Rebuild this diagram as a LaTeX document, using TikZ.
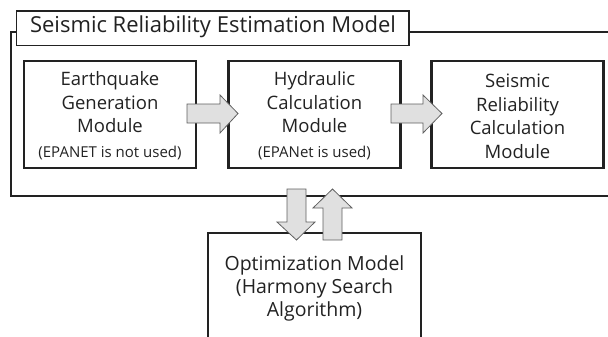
\documentclass[tikz,border=0pt]{standalone}
\usepackage{fontspec}
\setmainfont{Open Sans}
\definecolor{ink}{HTML}{222222}
\definecolor{arrowfill}{HTML}{E0E0E0}
\definecolor{arrowline}{HTML}{606060}
\begin{document}
\begin{tikzpicture}[x=1pt,y=-1pt,
  modbox/.style={draw=ink,line width=2.2pt,minimum width=172pt,minimum height=107pt,inner sep=0pt},
  frame/.style={draw=ink,line width=2pt},
  titlebox/.style={draw=ink,line width=1.2pt,minimum width=392.5pt,minimum height=34.5pt,inner sep=0pt},
  modtext/.style={align=center,text=ink,font=\fontsize{18.5}{23.5}\selectfont,inner sep=0pt},
  blockarrow/.style={fill=arrowfill,draw=arrowline,line width=0.8pt,line join=miter},
]
\useasboundingbox (0,0) rectangle (608,337);

% outer frame
\node[titlebox,fill=white] (title) at (212.75,28.25) {};
\draw[frame] (title.west |- 0,32) -- (11,32) -- (11,196) -- (620,196);
\draw[frame] (title.east |- 0,32) -- (620,32);
\node[text=ink,font=\fontsize{22}{26}\selectfont,inner sep=0pt] (titletext) at (213,27) {Seismic Reliability Estimation Model};

% modules
\node[modbox] (b1) at (110,114.5) {};
\node[modbox] (b2) at (314.5,114.5) {};
\node[modbox] (b3) at (517.5,114.5) {};

\node[modtext] (t1) at (110,116) {Earthquake\\Generation\\Module\\[1.5pt]{\fontsize{15}{23.5}\selectfont(EPANET is not used)}};
\node[modtext] (t2) at (314.5,116) {Hydraulic\\Calculation\\Module\\[1.5pt]{\fontsize{15}{23.5}\selectfont(EPANet is used)}};
\node[modtext] (t3) at (517.5,116.5) {Seismic\\Reliability\\Calculation\\Module};

% optimization model
\node[draw=ink,line width=2.2pt,minimum width=213pt,minimum height=130pt,inner sep=0pt,anchor=north] (opt) at (314.5,232) {};
\node[align=center,text=ink,font=\fontsize{19.5}{23}\selectfont,inner sep=0pt] (optt) at (314.5,288) {Optimization Model\\(Harmony Search\\Algorithm)};

% block arrows
\draw[blockarrow] (187,104) -- (220,104) -- (220,95) -- (238,113.5) -- (220,133) -- (220,123) -- (187,123) -- cycle;
\draw[blockarrow] (391,104) -- (423,104) -- (423,95) -- (442,113.5) -- (423,133) -- (423,123) -- (391,123) -- cycle;
\draw[blockarrow] (287,189) -- (306,189) -- (306,222) -- (315,222) -- (296.5,240) -- (277,222) -- (287,222) -- cycle;
\draw[blockarrow] (323,240) -- (342,240) -- (342,208) -- (352,208) -- (332.5,189) -- (313,208) -- (323,208) -- cycle;
\end{tikzpicture}
\end{document}
